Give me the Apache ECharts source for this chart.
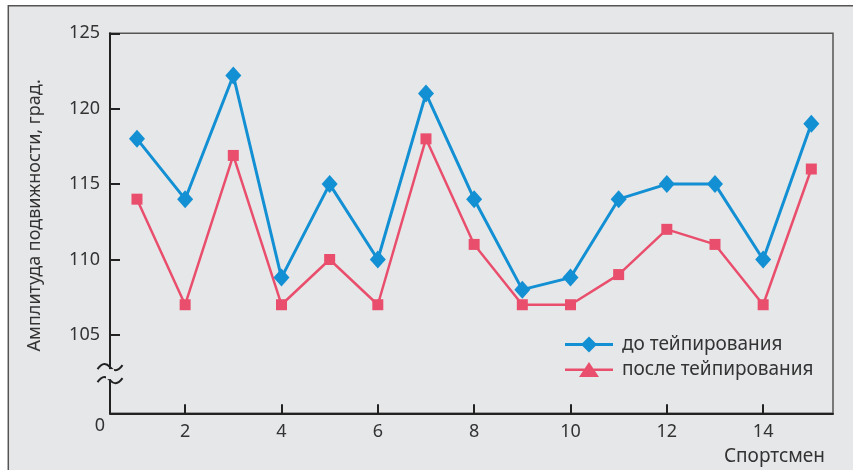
<!DOCTYPE html>
<html>
<head>
<meta charset="utf-8">
<script src="https://cdn.jsdelivr.net/npm/echarts@6/dist/echarts.min.js"></script>
<style>
html,body{margin:0;padding:0;background:#ffffff;}
#chart{width:853px;height:470px;}
</style>
</head>
<body>
<div id="chart"></div>
<script>
// ---- data ----
const athletes = [1,2,3,4,5,6,7,8,9,10,11,12,13,14,15];
const beforeTaping = [118,114,122.2,108.8,115,110,121,114,108,108.8,114,115,115,110,119];
const afterTaping  = [114,107,116.9,107,110,107,118,111,107,107,109,112,111,107,116];
const xTickValues = [2,4,6,8,10,12,14];
const yTickValues = [105,110,115,120,125];
const seriesNames = ['до тейпирования','после тейпирования'];
const xAxisName = 'Спортсмен';
const yAxisName = 'Амплитуда подвижности, град.';
const originLabel = '0';

const X_MIN = 0.44, X_MAX = 15.45, Y_MIN = 99.8, Y_MAX = 125;
const BLUE = '#1290d3', RED = '#e94f6d', BG = '#e6e7e9', INK = '#333333';
const FONT = 'Noto Sans';

const chart = echarts.init(document.getElementById('chart'), null, {renderer:'canvas'});

const blueData = athletes.map((a,i)=>[a, beforeTaping[i]]);
const redData = athletes.map((a,i)=>[a, afterTaping[i]]);

const option = {
  backgroundColor: '#ffffff',
  animation: false,
  textStyle: {fontFamily: FONT},
  grid: {left:110, right:20, top:33.3, bottom:56.7, show:true, borderColor:'#555', borderWidth:1.5, backgroundColor:'transparent'},
  legend: {
    orient:'vertical', left:560, top:330, itemWidth:48, itemHeight:16, itemGap:6,
    textStyle:{fontFamily:FONT, fontSize:19, color:INK, padding:[0,0,0,4]},
    data:[
      {name:seriesNames[0], icon:'path://M0,6.5 L48,6.5 L48,9.5 L0,9.5 Z M24,0 L32,8 L24,16 L16,8 Z'},
      {name:seriesNames[1], icon:'path://M0,6.6 L48,6.6 L48,9 L0,9 Z M24,0 L34,15 L14,15 Z'}
    ]
  },
  xAxis: {
    type:'value', min:X_MIN, max:X_MAX,
    name:'{n|'+xAxisName+'}', nameLocation:'end', nameGap:-8, nameMoveOverlap:false,
    nameTextStyle:{fontFamily:FONT, fontSize:19, color:INK, align:'right', verticalAlign:'top',
      rich:{n:{fontFamily:FONT, fontSize:19, color:INK, lineHeight:86}}},
    splitLine:{show:false},
    axisLine:{show:true, lineStyle:{color:'#222', width:2}},
    axisTick:{show:true, inside:true, length:9, lineStyle:{color:'#222', width:2}, customValues:xTickValues},
    axisLabel:{
      customValues:[X_MIN].concat(xTickValues), margin:10, fontFamily:FONT, fontSize:18, color:INK,
      formatter:function(v){ return Math.abs(v-X_MIN)<1e-6 ? '{z|'+originLabel+'}' : String(v); },
      rich:{z:{fontFamily:FONT, fontSize:18, color:INK, padding:[0,20,0,0], lineHeight:6}}
    }
  },
  yAxis: {
    type:'value', min:Y_MIN, max:Y_MAX,
    name:yAxisName, nameLocation:'middle', nameGap:66, nameRotate:90,
    nameTextStyle:{fontFamily:FONT, fontSize:18, color:INK, padding:[0,0,0,16]},
    splitLine:{show:false},
    axisLine:{show:true, lineStyle:{color:'#222', width:2}},
    axisTick:{show:true, inside:true, length:10, lineStyle:{color:'#222', width:2}, customValues:yTickValues},
    axisLabel:{customValues:yTickValues, margin:10, fontFamily:FONT, fontSize:18, color:INK}
  },
  series: [
    {name:seriesNames[0], type:'line', data:blueData, symbol:'diamond', symbolSize:[16,18],
     lineStyle:{color:BLUE, width:3}, itemStyle:{color:BLUE}, z:3},
    {name:seriesNames[1], type:'line', data:redData, symbol:'rect', symbolSize:11,
     lineStyle:{color:RED, width:2.5}, itemStyle:{color:RED}, z:2}
  ]
};
chart.setOption(option);

// decorations: outer panel and axis-break symbol
const axX = chart.convertToPixel({xAxisIndex:0}, X_MIN);
const brY = chart.convertToPixel({yAxisIndex:0}, 102.4);
function tilde(dy){
  return {type:'group', x:axX-12.5, y:brY+dy, z:101, silent:true, children:[
    {type:'bezierCurve', shape:{x1:0,y1:6,cpx1:5,cpy1:-1,cpx2:9,cpy2:0,x2:12.5,y2:4}, style:{fill:null, stroke:'#222', lineWidth:2}},
    {type:'bezierCurve', shape:{x1:12.5,y1:4,cpx1:16,cpy1:8,cpx2:20,cpy2:9,x2:25,y2:2}, style:{fill:null, stroke:'#222', lineWidth:2}}
  ]};
}
chart.setOption({
  graphic:[
    {type:'rect', z:-10, silent:true, shape:{x:8.3, y:5.7, width:900, height:500}, style:{fill:BG, stroke:'#555', lineWidth:1.5}},
    {type:'rect', z:100, silent:true, shape:{x:axX-4, y:brY-5, width:8, height:10}, style:{fill:BG}},
    tilde(-11),
    tilde(2)
  ]
});
</script>
</body>
</html>
